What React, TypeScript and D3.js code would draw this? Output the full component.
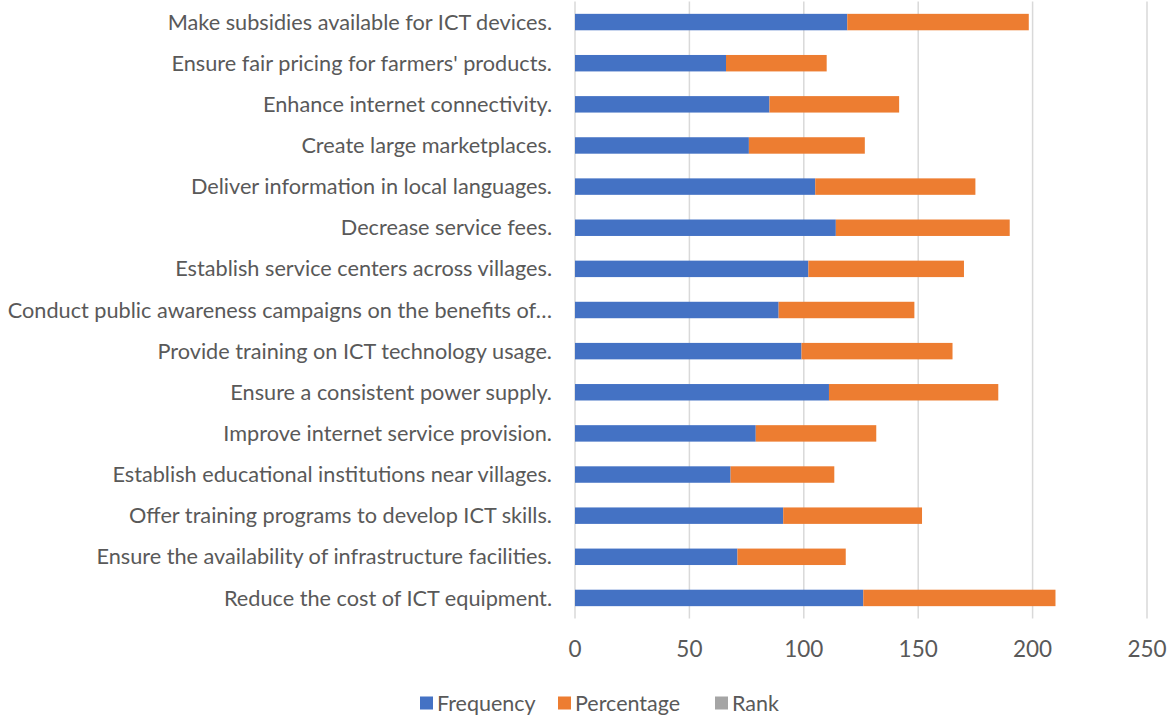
import { useEffect, useRef } from "react"
import * as d3 from "d3"

const categories = [
  "Make subsidies available for ICT devices.",
  "Ensure fair pricing for farmers' products.",
  "Enhance internet connectivity.",
  "Create large marketplaces.",
  "Deliver information in local languages.",
  "Decrease service fees.",
  "Establish service centers across villages.",
  "Conduct public awareness campaigns on the benefits of\u2026",
  "Provide training on ICT technology usage.",
  "Ensure a consistent power supply.",
  "Improve internet service provision.",
  "Establish educational institutions near villages.",
  "Offer training programs to develop ICT skills.",
  "Ensure the availability of infrastructure facilities.",
  "Reduce the cost of ICT equipment.",
]
const frequency = [119, 66, 85, 76, 105, 114, 102, 89, 99, 111, 79, 68, 91, 71, 126]
const percentage = [79.33, 44, 56.67, 50.67, 70, 76, 68, 59.33, 66, 74, 52.67, 45.33, 60.67, 47.33, 84]
// rank series is in the legend but draws nothing visible
const rank = [0, 0, 0, 0, 0, 0, 0, 0, 0, 0, 0, 0, 0, 0, 0]
const seriesNames = ["Frequency", "Percentage", "Rank"]
const seriesColors = ["#4472C4", "#ED7D31", "#A5A5A5"]
const xTicks = [0, 50, 100, 150, 200, 250]

export default function App() {
  const svgRef = useRef<SVGSVGElement>(null)

  useEffect(() => {
    if (!svgRef.current) return
    const svg = d3.select(svgRef.current)
    svg.selectAll("*").remove()

    const font = "Lato, 'Open Sans', sans-serif"
    const textColor = "#595959"
    const left = 575
    const right = 1147
    const top = 1.5
    const bottom = 618.5

    const rows = categories.map((c, i) => ({
      category: c,
      Frequency: frequency[i],
      Percentage: percentage[i],
      Rank: rank[i],
    }))

    const x = d3.scaleLinear().domain([0, 250]).range([left, right])
    const y = d3.scaleBand().domain(categories).range([top, bottom]).paddingInner(0.6).paddingOuter(0.3)

    // gridlines
    svg
      .append("g")
      .selectAll("line")
      .data(xTicks)
      .join("line")
      .attr("x1", (d) => x(d))
      .attr("x2", (d) => x(d))
      .attr("y1", top)
      .attr("y2", bottom)
      .attr("stroke", "#d9d9d9")
      .attr("stroke-width", 1.5)

    const stack = d3.stack<any>().keys(seriesNames)(rows)

    svg
      .append("g")
      .selectAll("g")
      .data(stack)
      .join("g")
      .attr("fill", (_, i) => seriesColors[i])
      .selectAll("rect")
      .data((s) => s.map((d) => ({ d, cat: d.data.category })))
      .join("rect")
      .attr("x", (p) => x(p.d[0]))
      .attr("width", (p) => Math.max(0, x(p.d[1]) - x(p.d[0])))
      .attr("y", (p) => y(p.cat) || 0)
      .attr("height", y.bandwidth())

    // category labels
    svg
      .append("g")
      .selectAll("text")
      .data(categories)
      .join("text")
      .attr("x", left - 23)
      .attr("y", (d) => (y(d) || 0) + y.bandwidth() / 2)
      .attr("dy", "0.35em")
      .attr("text-anchor", "end")
      .attr("font-family", font)
      .attr("font-size", 21.7)
      .attr("fill", textColor)
      .text((d) => d)

    // x tick labels
    svg
      .append("g")
      .selectAll("text")
      .data(xTicks)
      .join("text")
      .attr("x", (d) => x(d))
      .attr("y", 649)
      .attr("dy", "0.35em")
      .attr("text-anchor", "middle")
      .attr("font-family", font)
      .attr("font-size", 22.5)
      .attr("fill", textColor)
      .text((d) => d)

    // legend
    const legendX = [420, 558, 715]
    const legend = svg
      .append("g")
      .selectAll("g")
      .data(seriesNames)
      .join("g")
      .attr("transform", (_, i) => `translate(${legendX[i]},703)`)
    legend
      .append("rect")
      .attr("x", 0)
      .attr("y", -6.5)
      .attr("width", 13)
      .attr("height", 13)
      .attr("fill", (_, i) => seriesColors[i])
    legend
      .append("text")
      .attr("x", 17)
      .attr("dy", "0.35em")
      .attr("font-family", font)
      .attr("font-size", 21.5)
      .attr("fill", textColor)
      .text((d) => d)
  }, [])

  return (
    <svg
      ref={svgRef}
      width={1172}
      height={718}
      style={{ position: "absolute", left: 0, top: 0, background: "#fff" }}
    />
  )
}
